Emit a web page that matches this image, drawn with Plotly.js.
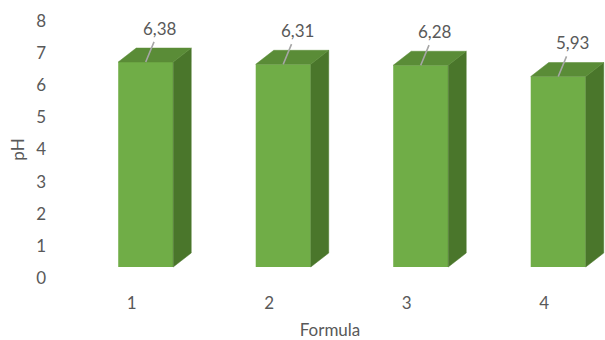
<!DOCTYPE html>
<html>
<head>
<meta charset="utf-8">
<script src="https://cdn.plot.ly/plotly-3.0.1.min.js"></script>
<style>html,body{margin:0;padding:0;background:#fff;}#chart{width:605px;height:340px;}</style>
</head>
<body>
<div id="chart"></div>
<script>
// ---- data ----
const categories = [1, 2, 3, 4];
const categoryLabels = ['1', '2', '3', '4'];
const phValues = [6.38, 6.31, 6.28, 5.93];
const yTickValues = [0, 1, 2, 3, 4, 5, 6, 7, 8];

// ---- style / geometry (pixels converted to axis units) ----
const pxPerX = 137.5;          // pixels per category step
const pxPerY = 32.125;         // pixels per pH unit
const barW = 55 / pxPerX;      // front face width
const depthX = 18 / pxPerX;    // 3D depth, horizontal
const depthY = 14 / pxPerY;    // 3D depth, vertical
const barShift = 14 / pxPerX;  // bars sit right of the tick labels
const floorShift = 11 / pxPerY;// bar base sits above the "0" tick

const cFront = '#70AD47', cTop = '#5A8C37', cSide = '#4A762B';
const txt = '#595959';
const FONT = 'Lato, "Liberation Sans", sans-serif';
const FS = 17;

const xRange = [0.442, 4.442];
const x2Range = [xRange[0] - barShift, xRange[1] - barShift];
const yRange = [0, 8];
const y2Range = [yRange[0] - floorShift, yRange[1] - floorShift];

const traces = [];
// front faces
traces.push({
  type: 'bar', x: categories, y: phValues, width: barW,
  marker: {color: cFront, line: {width: 0}},
  xaxis: 'x2', yaxis: 'y2', hoverinfo: 'skip', showlegend: false
});
// side and top faces
categories.forEach((c, i) => {
  const v = phValues[i];
  const r = c + barW / 2, l = c - barW / 2;
  traces.push({
    type: 'scatter', mode: 'lines', fill: 'toself', fillcolor: cSide,
    line: {color: cSide, width: 0.5},
    x: [r, r + depthX, r + depthX, r, r],
    y: [0, depthY, v + depthY, v, 0],
    xaxis: 'x2', yaxis: 'y2', hoverinfo: 'skip', showlegend: false
  });
  traces.push({
    type: 'scatter', mode: 'lines', fill: 'toself', fillcolor: cTop,
    line: {color: cTop, width: 0.5},
    x: [l, r, r + depthX, l + depthX, l],
    y: [v, v, v + depthY, v + depthY, v],
    xaxis: 'x2', yaxis: 'y2', hoverinfo: 'skip', showlegend: false
  });
});
// invisible trace to hold the visible axes
traces.push({type: 'scatter', mode: 'none', x: categories, y: [0, 0, 0, 0],
  xaxis: 'x', yaxis: 'y', hoverinfo: 'skip', showlegend: false});

const annotations = categories.map((c, i) => ({
  x: c, y: phValues[i], xref: 'x2', yref: 'y2',
  text: phValues[i].toFixed(2).replace('.', ','),
  showarrow: true, arrowhead: 0, arrowwidth: 1.6, arrowcolor: '#A6A6A6',
  ax: 14, ay: -34, startstandoff: 2,
  font: {family: FONT, size: FS, color: txt}
}));

const layout = {
  width: 605, height: 340,
  margin: {l: 55, r: 0, t: 20.7, b: 62.3},
  paper_bgcolor: '#ffffff', plot_bgcolor: '#ffffff',
  font: {family: FONT, size: FS, color: txt},
  showlegend: false,
  xaxis: {
    range: xRange, tickvals: categories, ticktext: categoryLabels,
    showgrid: false, zeroline: false, showline: false, ticks: '',
    ticklabelstandoff: 13,
    tickfont: {family: FONT, size: FS, color: txt},
    title: {text: 'Formula', font: {family: FONT, size: FS, color: txt}, standoff: 14}
  },
  yaxis: {
    range: yRange, tickvals: yTickValues,
    showgrid: false, zeroline: false, showline: false, ticks: '',
    ticklabelstandoff: 8,
    tickfont: {family: FONT, size: FS, color: txt},
    title: {text: 'pH', font: {family: FONT, size: FS, color: txt}, standoff: 7}
  },
  xaxis2: {range: x2Range, overlaying: 'x', visible: false},
  yaxis2: {range: y2Range, overlaying: 'y', visible: false},
  annotations: annotations
};

Plotly.newPlot('chart', traces, layout, {staticPlot: true, displayModeBar: false});
</script>
</body>
</html>
